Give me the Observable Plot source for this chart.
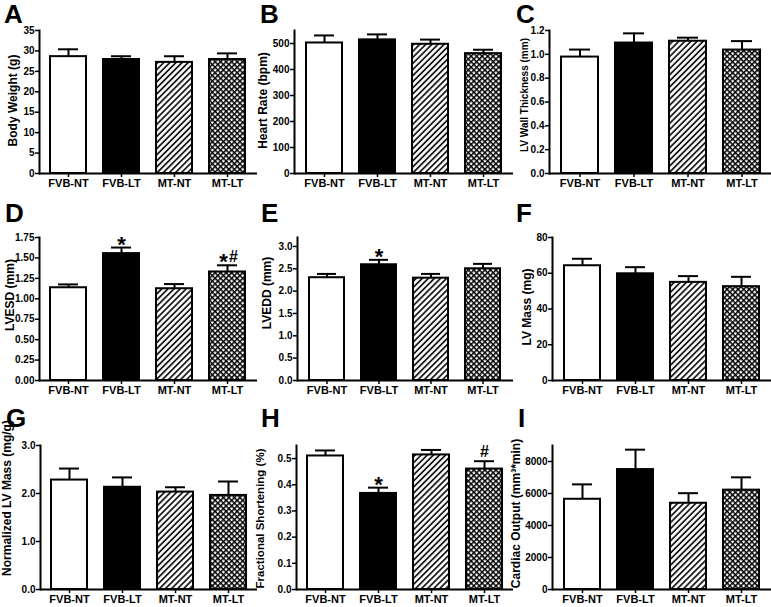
<!DOCTYPE html>
<html><head><meta charset="utf-8">
<script src="https://cdn.jsdelivr.net/npm/d3@7"></script>
<script src="https://cdn.jsdelivr.net/npm/@observablehq/plot@0.6"></script>
<style>
body{margin:0;background:#fff;}
#wrap{position:relative;width:771px;height:607px;overflow:hidden;font-family:"Liberation Sans",Arial,sans-serif;background:#fff;}
.panel{position:absolute;}
.letter{position:absolute;font-weight:bold;font-size:26px;line-height:29px;color:#000;}
</style></head><body>
<svg width="0" height="0" style="position:absolute">
<defs>
<pattern id="diag" width="4.3" height="4.3" patternUnits="userSpaceOnUse" patternTransform="rotate(45)">
<rect width="4.3" height="4.3" fill="white"/>
<line x1="1" y1="0" x2="1" y2="4.3" stroke="black" stroke-width="1.6"/>
</pattern>
<pattern id="xhatch" width="3.9" height="3.9" patternUnits="userSpaceOnUse" patternTransform="rotate(45)">
<rect width="3.9" height="3.9" fill="white"/>
<line x1="0.75" y1="0" x2="0.75" y2="3.9" stroke="black" stroke-width="1.5"/>
<line x1="0" y1="0.75" x2="3.9" y2="0.75" stroke="black" stroke-width="1.5"/>
</pattern>
</defs>
</svg>
<div id="wrap"></div>
<script>
const groups = ["FVB-NT", "FVB-LT", "MT-NT", "MT-LT"];

const bodyWeightMean = [28.6, 27.9, 27.2, 27.9];
const bodyWeightSem  = [1.8, 0.8, 1.5, 1.5];
const heartRateMean  = [502, 514, 497, 461];
const heartRateSem   = [29, 21, 18, 15];
const wallMean = [0.977, 1.095, 1.11, 1.036];
const wallSem  = [0.063, 0.081, 0.03, 0.075];
const lvesdMean = [1.135, 1.553, 1.123, 1.328];
const lvesdSem  = [0.041, 0.074, 0.057, 0.082];
const lveddMean = [2.30, 2.59, 2.29, 2.50];
const lveddSem  = [0.085, 0.11, 0.095, 0.11];
const massMean = [64.2, 59.7, 54.9, 52.5];
const massSem  = [3.9, 3.7, 3.5, 5.5];
const normMassMean = [2.28, 2.13, 2.03, 1.96];
const normMassSem  = [0.24, 0.205, 0.10, 0.29];
const fsMean = [0.510, 0.367, 0.514, 0.460];
const fsSem  = [0.021, 0.022, 0.019, 0.03];
const coMean = [5640, 7495, 5390, 6210];
const coSem  = [930, 1245, 630, 800];

// significance marks: "*" vs FVB-NT, "#" vs FVB-LT
const lvesdAnnot = ["", "*", "", "*#"];
const lveddAnnot = ["", "*", "", ""];
const fsAnnot    = ["", "*", "", "#"];

const bwTicks = [0, 5, 10, 15, 20, 25, 30, 35];
const hrTicks = [0, 100, 200, 300, 400, 500];
const wallTicks = [0, 0.2, 0.4, 0.6, 0.8, 1.0, 1.2];
const lvesdTicks = [0, 0.25, 0.5, 0.75, 1.0, 1.25, 1.5, 1.75];
const lveddTicks = [0, 0.5, 1.0, 1.5, 2.0, 2.5, 3.0];
const massTicks = [0, 20, 40, 60, 80];
const normTicks = [0, 1, 2, 3];
const fsTicks = [0, 0.1, 0.2, 0.3, 0.4, 0.5];
const coTicks = [0, 2000, 4000, 6000, 8000];

const fills = ["white", "black", "url(#diag)", "url(#xhatch)"];

const panels = [
  {letter:"A", label:"Body Weight (g)", mean:bodyWeightMean, sem:bodyWeightSem, yMax:35, ticks:bwTicks, fmt:"d", col:0, row:0, ml:39, lx:4, lcx:12.5, lshift:-1.5},
  {letter:"B", label:"Heart Rate (bpm)", mean:heartRateMean, sem:heartRateSem, yMax:550, ticks:hrTicks, fmt:"d", col:1, row:0, ml:38, lx:260, lcx:7, lshift:-1.5},
  {letter:"C", label:"LV Wall Thickness (mm)", mean:wallMean, sem:wallSem, yMax:1.2, ticks:wallTicks, fmt:".1f", col:2, row:0, ml:37, lx:516, lcx:12, lshift:-7, lfs:10},
  {letter:"D", label:"LVESD (mm)", mean:lvesdMean, sem:lvesdSem, yMax:1.75, ticks:lvesdTicks, fmt:".2f", annot:lvesdAnnot, col:0, row:1, ml:39, lx:5, lcx:10, lshift:-14},
  {letter:"E", label:"LVEDD (mm)", mean:lveddMean, sem:lveddSem, yMax:3.2, ticks:lveddTicks, fmt:".1f", annot:lveddAnnot, col:1, row:1, ml:41, lx:261, lcx:11, lshift:-16},
  {letter:"F", label:"LV Mass (mg)", mean:massMean, sem:massSem, yMax:80, ticks:massTicks, fmt:"d", col:2, row:1, ml:40, lx:516, lcx:15, lshift:-2},
  {letter:"G", label:"Normalized LV Mass (mg/g)", mean:normMassMean, sem:normMassSem, yMax:3, ticks:normTicks, fmt:".1f", col:0, row:2, ml:40, lx:6, lcx:7, lshift:-19.5},
  {letter:"H", label:"Fractional Shortening (%)", mean:fsMean, sem:fsSem, yMax:0.55, ticks:fsTicks, fmt:".1f", annot:fsAnnot, col:1, row:2, ml:40, lx:261, lcx:3.5, lshift:1, lfs:11.5},
  {letter:"I", label:"Cardiac Output (mm³*min)", mean:coMean, sem:coSem, yMax:9000, ticks:coTicks, fmt:"d", col:2, row:2, ml:40, lx:518, lcx:4, lshift:-4}
];

const colLeft = [0, 256, 512];
const colWidth = [257, 257, 259];
const rowTop = [0, 200, 400];
const rowHeight = [200, 200, 207];
const rowMT = [30, 37, 45];
const rowMB = [27, 20, 18];
const letterTop = [0, 199, 404];

const wrap = document.getElementById("wrap");
const FONT = "'Liberation Sans', Arial, sans-serif";

for (const p of panels) {
  const rows = groups.map((g, i) => {
    const a = p.annot ? p.annot[i] : "";
    return {group: g, mean: p.mean[i], top: p.mean[i] + p.sem[i],
            star: a.includes("*"), hash: a.includes("#")};
  });
  const marks = [];
  groups.forEach((g, i) => {
    marks.push(Plot.barY(rows.filter(d => d.group === g), {x: "group", y: "mean", fill: fills[i], stroke: "black", strokeWidth: 2}));
  });
  marks.push(Plot.ruleX(rows, {x: "group", y1: "mean", y2: "top", stroke: "black", strokeWidth: 2}));
  marks.push(Plot.tickY(rows, {x: "group", y: "top", stroke: "black", strokeWidth: 2, insetLeft: 8, insetRight: 8}));
  const starRows = rows.filter(d => d.star);
  const hashRows = rows.filter(d => d.hash);
  marks.push(Plot.text(starRows.filter(d => !d.hash), {x: "group", y: "top", text: () => "*", fontSize: 22, fontWeight: "bold", lineAnchor: "bottom", dy: 4}));
  marks.push(Plot.text(starRows.filter(d => d.hash), {x: "group", y: "top", text: () => "*", fontSize: 22, fontWeight: "bold", lineAnchor: "bottom", dy: 4, dx: -4}));
  marks.push(Plot.text(hashRows.filter(d => !d.star), {x: "group", y: "top", text: () => "#", fontSize: 16, fontWeight: "bold", lineAnchor: "bottom", dy: -4}));
  marks.push(Plot.text(hashRows.filter(d => d.star), {x: "group", y: "top", text: () => "#", fontSize: 16, fontWeight: "bold", lineAnchor: "bottom", dy: -3, dx: 6}));
  marks.push(Plot.ruleY([0], {stroke: "black", strokeWidth: 2}));
  marks.push(Plot.frame({anchor: "left", stroke: "black", strokeWidth: 2}));
  marks.push(Plot.axisY({ticks: p.ticks, tickFormat: d3.format(p.fmt), tickSize: 4, tickPadding: 1, label: null, strokeWidth: 1.5, fontSize: 10}));
  marks.push(Plot.axisX({tickSize: 4, tickPadding: 2, label: null, strokeWidth: 1.5}));
  marks.push(Plot.text([p.label], {text: d => d, frameAnchor: "left", textAnchor: "middle", lineAnchor: "middle", rotate: -90, dx: p.lcx - p.ml, dy: p.lshift || 0, fontSize: p.lfs || 12, fontWeight: "bold"}));

  const chart = Plot.plot({
    width: colWidth[p.col],
    height: rowHeight[p.row],
    marginLeft: p.ml,
    marginRight: 0,
    marginTop: rowMT[p.row],
    marginBottom: rowMB[p.row],
    x: {domain: groups, paddingInner: 0.32, paddingOuter: 0.2},
    y: {domain: [0, p.yMax]},
    style: {fontFamily: FONT, fontSize: "11px", fontWeight: "bold", color: "black", background: "transparent", overflow: "visible"},
    marks
  });
  const div = document.createElement("div");
  div.className = "panel";
  div.style.left = colLeft[p.col] + "px";
  div.style.top = rowTop[p.row] + "px";
  div.appendChild(chart);
  wrap.appendChild(div);

  const L = document.createElement("div");
  L.className = "letter";
  L.textContent = p.letter;
  L.style.left = p.lx + "px";
  L.style.top = letterTop[p.row] + "px";
  wrap.appendChild(L);
}
</script>
</body></html>
